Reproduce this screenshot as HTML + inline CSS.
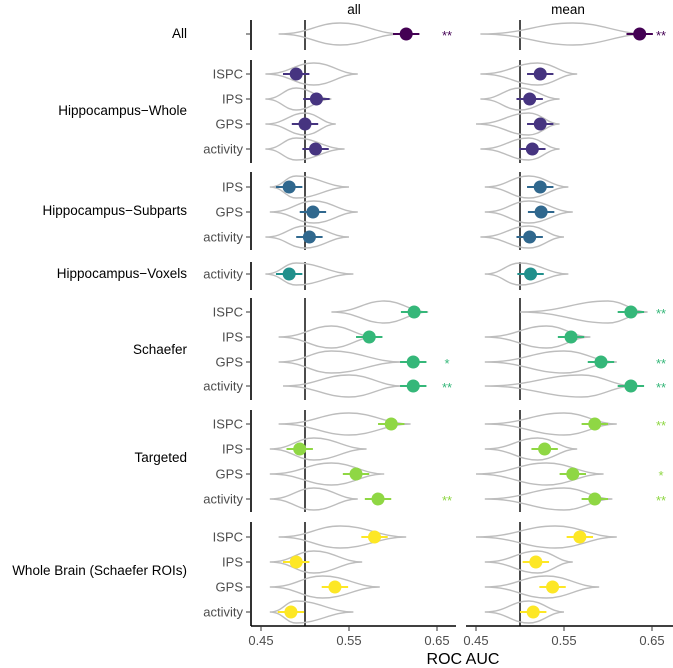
<!DOCTYPE html>
<html><head><meta charset="utf-8">
<style>
body{margin:0;background:#fff;}
svg{display:block;font-family:"Liberation Sans",sans-serif;}
</style></head>
<body>
<svg id="chart" width="673" height="668" viewBox="0 0 673 668" xmlns="http://www.w3.org/2000/svg"></svg>
<script>
// ---- data ----
const groups = ["All","Hippocampus\u2212Whole","Hippocampus\u2212Subparts","Hippocampus\u2212Voxels","Schaefer","Targeted","Whole Brain (Schaefer ROIs)"];
const rowGroup = [0,1,1,1,1,2,2,2,3,4,4,4,4,5,5,5,5,6,6,6,6];
const rowLabel = ["","ISPC","IPS","GPS","activity","IPS","GPS","activity","activity","ISPC","IPS","GPS","activity","ISPC","IPS","GPS","activity","ISPC","IPS","GPS","activity"];
const allValues = [0.615,0.490,0.513,0.500,0.512,0.482,0.509,0.505,0.482,0.624,0.573,0.623,0.623,0.598,0.494,0.558,0.583,0.579,0.490,0.534,0.484];
const meanValues = [0.636,0.523,0.511,0.523,0.514,0.523,0.524,0.511,0.512,0.626,0.558,0.592,0.626,0.585,0.528,0.560,0.585,0.568,0.518,0.537,0.515];
const allStars = ["**","","","","","","","","","","","*","**","","","","**","","","",""];
const meanStars = ["**","","","","","","","","","**","","**","**","**","","*","**","","","",""];
// violin ranges: [min, mode, max] for "all" and "mean"
const allViolin = [[0.47,0.54,0.61],[0.455,0.51,0.56],[0.455,0.49,0.53],[0.455,0.50,0.535],[0.455,0.49,0.545],[0.46,0.49,0.55],[0.46,0.51,0.56],[0.455,0.50,0.55],[0.455,0.49,0.555],[0.53,0.59,0.64],[0.47,0.53,0.58],[0.47,0.53,0.61],[0.475,0.55,0.61],[0.47,0.55,0.62],[0.46,0.51,0.57],[0.46,0.53,0.59],[0.46,0.51,0.56],[0.47,0.54,0.615],[0.46,0.51,0.565],[0.46,0.52,0.585],[0.46,0.49,0.555]];
const meanViolin = [[0.455,0.56,0.645],[0.455,0.52,0.565],[0.455,0.50,0.545],[0.45,0.51,0.545],[0.455,0.51,0.545],[0.46,0.51,0.555],[0.46,0.51,0.56],[0.455,0.51,0.55],[0.46,0.50,0.555],[0.50,0.60,0.645],[0.46,0.53,0.58],[0.46,0.55,0.61],[0.46,0.57,0.63],[0.46,0.55,0.61],[0.46,0.52,0.565],[0.45,0.53,0.595],[0.46,0.55,0.605],[0.45,0.54,0.61],[0.46,0.52,0.56],[0.46,0.53,0.59],[0.46,0.51,0.55]];
const errHalf = 0.015;
const xTicks = [0.45,0.55,0.65];
const groupColors = ["#440154","#463480","#30688e","#21908c","#35b779","#8fd744","#fde725"];

// ---- layout ----
const rowY = [34,74,99,124,149,187,212,237,274,312,337,362,386,424,449,474,499,537,562,587,612];
const groupSpan = [[20,50],[60,163],[172,250],[262,290],[298,400],[410,512],[522,626]];
const groupLabelY = [38,115,215,278,354,462,575];
const panels = [{x0:261,name:"all",vals:allValues,vio:allViolin,stars:allStars,starX:447,left:251,right:456,titleX:354},
                {x0:476,name:"mean",vals:meanValues,vio:meanViolin,stars:meanStars,starX:661,left:466,right:673,titleX:568}];
const scale = 880; // px per 1.0 AUC
function xPos(p,v){return p.x0+(v-0.45)*scale;}

const svg=document.getElementById('chart');
const NS="http://www.w3.org/2000/svg";
function mk(tag,attrs,parent){const e=document.createElementNS(NS,tag);for(const k in attrs)e.setAttribute(k,attrs[k]);(parent||svg).appendChild(e);return e;}

groups.forEach((g,i)=>{
  const t=mk('text',{x:187,y:groupLabelY[i],'text-anchor':'end','font-size':13.5,fill:'#000'});
  t.textContent=g;
  
  
  const s=groupSpan[i];
  const l=mk('line',{x1:251,x2:251,y1:s[0],y2:s[1],stroke:'#000','stroke-width':1.6});
  
  
});
rowY.forEach((y,i)=>{
  const tk=mk('line',{x1:246,x2:251,y1:y,y2:y,stroke:'#333','stroke-width':1});
  
  
  if(rowLabel[i]){
    const t=mk('text',{x:243,y:y+4.5,'text-anchor':'end','font-size':13,fill:'#4d4d4d'});
    t.textContent=rowLabel[i];
    
    
  }
});

function violinPath(p,r,y){
  const [mn,md,mx]=r;const h=11;
  const a=xPos(p,mn),m=xPos(p,md),b=xPos(p,mx);
  return `M${a},${y} C${(a+m)/2},${y} ${(a+m)/2+(m-a)*0.1},${y-h} ${m},${y-h} C${m+(b-m)*0.4},${y-h} ${m+(b-m)*0.6},${y} ${b},${y} C${m+(b-m)*0.6},${y} ${m+(b-m)*0.4},${y+h} ${m},${y+h} C${(a+m)/2+(m-a)*0.1},${y+h} ${(a+m)/2},${y} ${a},${y} Z`;
}

panels.forEach(p=>{
  const g=mk('g',{});
  
  
  const title=mk('text',{x:p.titleX,y:14,'text-anchor':'middle','font-size':13.5,fill:'#000'},g);
  title.textContent=p.name;
  
  
  const ax=mk('line',{x1:p.left,x2:p.right,y1:626,y2:626,stroke:'#000','stroke-width':1.6},g);
  
  
  xTicks.forEach(v=>{
    const x=xPos(p,v);
    const tl=mk('line',{x1:x,x2:x,y1:626,y2:631,stroke:'#333'},g);
    
    
    const tt=mk('text',{x:x,y:645,'text-anchor':'middle','font-size':13,fill:'#4d4d4d'},g);
    tt.textContent=v.toFixed(2);
    
    
  });
  groupSpan.forEach(s=>{
    const rl=mk('line',{x1:xPos(p,0.5),x2:xPos(p,0.5),y1:s[0],y2:s[1],stroke:'#000','stroke-width':1.4},g);
    
    
  });
  rowY.forEach((y,i)=>{
    const c=groupColors[rowGroup[i]];
    const v=mk('path',{d:violinPath(p,p.vio[i],y),fill:'none',stroke:'#bdbdbd','stroke-width':1.4},g);
    
    
    const val=p.vals[i];
    const e=mk('line',{x1:xPos(p,val-errHalf),x2:xPos(p,val+errHalf),y1:y,y2:y,stroke:c,'stroke-width':2},g);
    
    
    const pt=mk('circle',{cx:xPos(p,val),cy:y,r:6.5,fill:c},g);
    
    
    if(p.stars[i]){
      const st=mk('text',{x:p.starX,y:y+6,'text-anchor':'middle','font-size':13,fill:c},g);
      st.textContent=p.stars[i];
      
      
    }
  });
});
const xt=mk('text',{x:463,y:664,'text-anchor':'middle','font-size':16,fill:'#000'});
xt.textContent='ROC AUC';


</script>
</body></html>
